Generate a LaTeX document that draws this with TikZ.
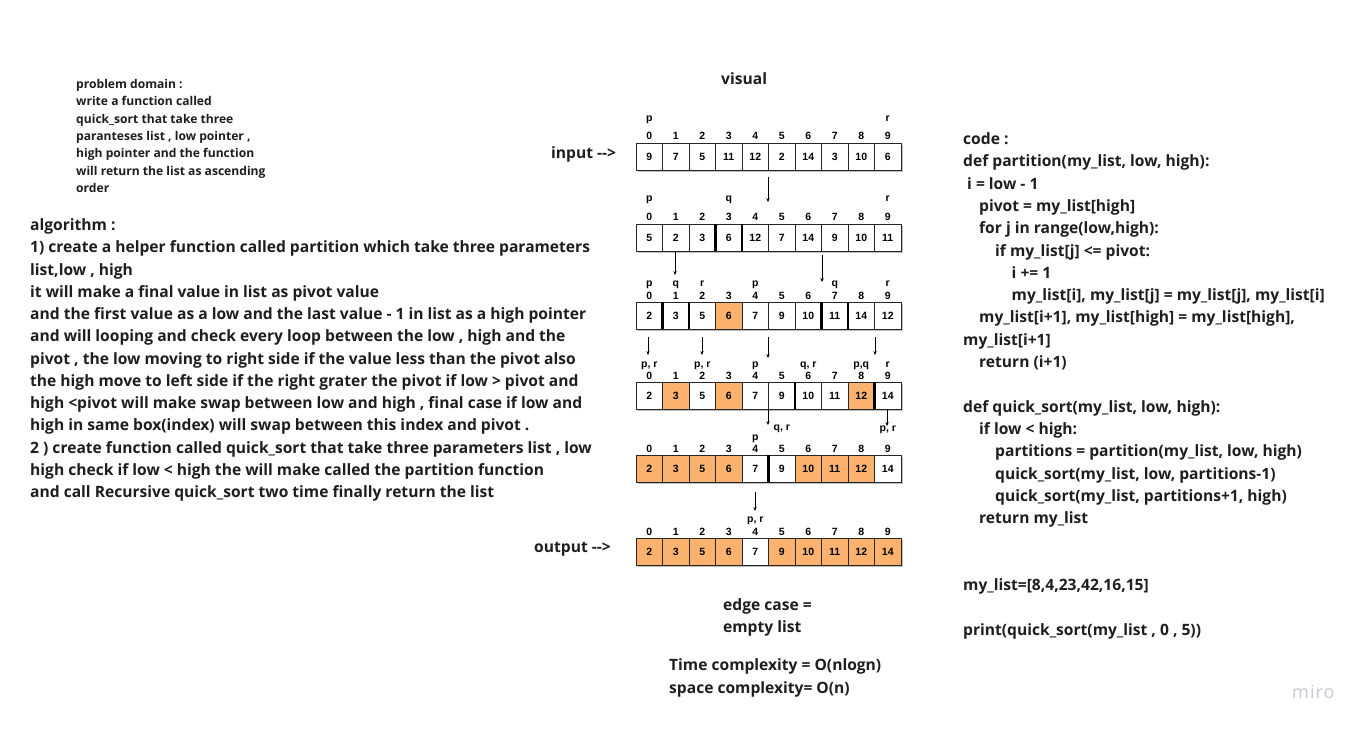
\documentclass[tikz,border=0pt]{standalone}
\usepackage{fontspec}
\setmainfont{Open Sans}
\newfontfamily\arrfont{Liberation Sans}
\usetikzlibrary{arrows.meta}
\definecolor{orng}{RGB}{250,178,110}
\definecolor{shd}{RGB}{190,190,190}
\definecolor{mirocol}{RGB}{200,200,215}
\definecolor{txt}{RGB}{30,30,30}
\newcommand{\cellrow}[4]{% #1 name, #2 top y, #3 value/colour list, #4 thick boundaries
  \fill[shd] (638,#2+1.8) rectangle (902.6,#2+28.8);
  \foreach \v/\c [count=\k from 0] in {#3} {
    \node[cellbox,fill=\c] (#1c\k) at ({649.25+26.5*\k},{#2+13.5}) {\v};
    \node[idxlab] (#1i\k) at ({649.25+26.5*\k},{#2-3}) {\k};
  }
  \foreach \b in {#4} {\draw[line width=2.3pt] ({636+26.5*\b},#2) -- ++(0,27);}
}
\begin{document}
\begin{tikzpicture}[x=1pt,y=-1pt,
  cellbox/.style={draw=black!85,line width=0.7pt,minimum width=26.5pt,minimum height=27pt,inner sep=0pt,outer sep=0pt,font=\arrfont\bfseries\fontsize{10.5}{12}\selectfont},
  idxlab/.style={anchor=base,inner sep=0pt,font=\arrfont\bfseries\fontsize{10.5}{12}\selectfont},
  ptr/.style={anchor=base,inner sep=0pt,font=\arrfont\bfseries\fontsize{10.5}{12}\selectfont},
  pd/.style={anchor=base west,inner sep=0pt,text=txt,font=\bfseries\fontsize{12.1}{14}\selectfont},
  big/.style={anchor=base west,inner sep=0pt,text=txt,font=\bfseries\fontsize{15.6}{18}\selectfont},
  arr/.style={line width=0.6pt,-{Stealth[length=4pt,width=3.4pt]}}]
\useasboundingbox[fill=white] (0,0) rectangle (1368,730);

% problem domain
\node[pd] (pd0) at (76,88.5) {problem domain :};
\node[pd] (pd1) at (76,105.85) {write a function called};
\node[pd] (pd2) at (76,123.2) {quick\_sort that take three};
\node[pd] (pd3) at (76,140.55) {paranteses list , low pointer ,};
\node[pd] (pd4) at (76,157.9) {high pointer and the function};
\node[pd] (pd5) at (76,175.25) {will return the list as ascending};
\node[pd] (pd6) at (76,192.6) {order};

% algorithm
\node[big] (al0) at (30,230.5) {algorithm :};
\node[big] (al1) at (30,252.75) {1) create a helper function called partition which take three parameters};
\node[big] (al2) at (30,275.0) {list,low , high};
\node[big] (al3) at (30,297.25) {it will make a final value in list as pivot value};
\node[big] (al4) at (30,319.5) {and the first value as a low and the last value - 1 in list as a high pointer};
\node[big] (al5) at (30,341.75) {and will looping and check every loop between the low , high and the};
\node[big] (al6) at (30,364.0) {pivot , the low moving to right side if the value less than the pivot also};
\node[big] (al7) at (30,386.25) {the high move to left side if the right grater the pivot if low > pivot and};
\node[big] (al8) at (30,408.5) {high <pivot will make swap between low and high , final case if low and};
\node[big] (al9) at (30,430.75) {high in same box(index) will swap between this index and pivot .};
\node[big] (al10) at (30,453.0) {2 ) create function called quick\_sort that take three parameters list , low};
\node[big] (al11) at (30,475.25) {high check if low < high the will make called the partition function};
\node[big] (al12) at (30,497.5) {and call Recursive quick\_sort two time finally return the list};

% code
\node[big] (cd0) at (963,144.5) {code :};
\node[big] (cd1) at (963,166.8) {def partition(my\_list, low, high):};
\node[big] (cd2) at (967,189.1) {i = low - 1};
\node[big] (cd3) at (979,211.4) {pivot = my\_list[high]};
\node[big] (cd4) at (979,233.7) {for j in range(low,high):};
\node[big] (cd5) at (995,256.0) {if my\_list[j] <= pivot:};
\node[big] (cd6) at (1011.5,278.3) {i += 1};
\node[big] (cd7) at (1011.5,300.6) {my\_list[i], my\_list[j] = my\_list[j], my\_list[i]};
\node[big] (cd8) at (979,322.9) {my\_list[i+1], my\_list[high] = my\_list[high],};
\node[big] (cd9) at (963,345.2) {my\_list[i+1]};
\node[big] (cd10) at (979,367.5) {return (i+1)};
\node[big] (cd12) at (963,412.1) {def quick\_sort(my\_list, low, high):};
\node[big] (cd13) at (979,434.4) {if low < high:};
\node[big] (cd14) at (995,456.7) {partitions = partition(my\_list, low, high)};
\node[big] (cd15) at (995,479.0) {quick\_sort(my\_list, low, partitions-1)};
\node[big] (cd16) at (995,501.3) {quick\_sort(my\_list, partitions+1, high)};
\node[big] (cd17) at (979,523.6) {return my\_list};
\node[big] (cd20) at (963,590.5) {my\_list=[8,4,23,42,16,15]};
\node[big] (cd22) at (963,635.1) {print(quick\_sort(my\_list , 0 , 5))};

% titles
\node[big] (vis) at (721,84.5) {visual};
\node[big] (inp) at (551,158.5) {input -{}->};
\node[big] (outp) at (534,552.5) {output -{}->};
\node[big] (ec0) at (723,610.5) {edge case =};
\node[big] (ec1) at (723,632.5) {empty list};
\node[big] (tc) at (669,670.5) {Time complexity = O(nlogn)};
\node[big] (sc) at (669,693.5) {space complexity= O(n)};
\node[anchor=base west,inner sep=0pt,text=mirocol,font=\addfontfeature{LetterSpace=6}\fontsize{18}{20}\selectfont] (miro) at (1292,698) {miro};

% rows
\cellrow{ra}{143}{9/white,7/white,5/white,11/white,12/white,2/white,14/white,3/white,10/white,6/white}{}
\cellrow{rb}{224}{5/white,2/white,3/white,6/white,12/white,7/white,14/white,9/white,10/white,11/white}{3,4}
\cellrow{rc}{302}{2/white,3/white,5/white,6/orng,7/white,9/white,10/white,11/white,14/white,12/white}{1,2,7,8}
\cellrow{rd}{382}{2/white,3/orng,5/white,6/orng,7/white,9/white,10/white,11/white,12/orng,14/white}{6,9}
\cellrow{re}{455}{2/orng,3/orng,5/orng,6/orng,7/white,9/white,10/orng,11/orng,12/orng,14/white}{5}
\cellrow{rf}{538}{2/orng,3/orng,5/orng,6/orng,7/white,9/orng,10/orng,11/orng,12/orng,14/orng}{}

% pointer labels
\node[ptr] (pa1) at (649.25,121.3) {p};
\node[ptr] (pa2) at (887.75,121.3) {r};
\node[ptr] (pb1) at (649.25,201.3) {p};
\node[ptr] (pb2) at (728.75,201.3) {q};
\node[ptr] (pb3) at (887.75,201.3) {r};
\node[ptr] (pc1) at (649.25,286.3) {p};
\node[ptr] (pc2) at (675.75,286.3) {q};
\node[ptr] (pc3) at (702.25,286.3) {r};
\node[ptr] (pc4) at (755.25,286.3) {p};
\node[ptr] (pc5) at (834.75,286.3) {q};
\node[ptr] (pc6) at (887.75,286.3) {r};
\node[ptr] (pd1x) at (649.25,367.5) {p, r};
\node[ptr] (pd2x) at (702.25,367.5) {p, r};
\node[ptr] (pd3x) at (755.25,367.5) {p};
\node[ptr] (pd4x) at (808.25,367.5) {q, r};
\node[ptr] (pd5x) at (861.25,367.5) {p,q};
\node[ptr] (pd6x) at (887.75,367.5) {r};
\node[ptr] (pe1) at (781.75,430.3) {q, r};
\node[ptr] (pe2) at (755.25,440.3) {p};
\node[ptr] (pe3) at (887.75,431.3) {p, r};
\node[ptr] (pf1) at (755.25,522.3) {p, r};

% arrows
\coordinate (a1s) at (768,177); \coordinate (a1e) at (768,202);
\coordinate (a2s) at (675,250.5); \coordinate (a2e) at (675,275);
\coordinate (a3s) at (822,255); \coordinate (a3e) at (822,282);
\coordinate (a4s) at (648,337); \coordinate (a4e) at (648,355);
\coordinate (a5s) at (702,337); \coordinate (a5e) at (702,355);
\coordinate (a6s) at (768,337); \coordinate (a6e) at (768,358);
\coordinate (a7s) at (875,337); \coordinate (a7e) at (875,355);
\coordinate (a8s) at (768,409.5); \coordinate (a8e) at (768,425);
\coordinate (a9s) at (887,409.5); \coordinate (a9e) at (887,426);
\coordinate (a10s) at (755,492); \coordinate (a10e) at (755,511);
\foreach \i in {1,...,10} {\draw[arr] (a\i s) -- (a\i e);}
\end{tikzpicture}
\end{document}
